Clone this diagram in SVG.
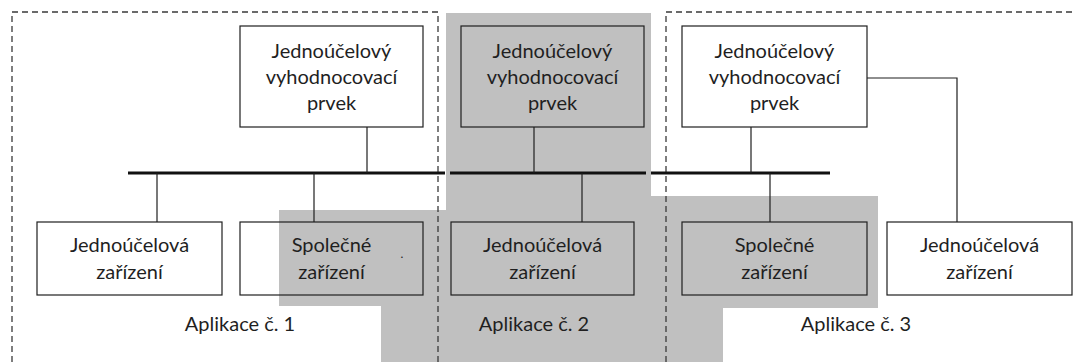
<svg xmlns="http://www.w3.org/2000/svg" width="1074" height="362" viewBox="0 0 1074 362">
  <style>
    .shade { fill: #c0c0c0; }
    .box { stroke: #1e1e1e; stroke-width: 1.2; }
    .white { fill: #ffffff; }
    .grey { fill: #c0c0c0; }
    .open { fill: none; }
    .wire { stroke: #1e1e1e; stroke-width: 1.2; fill: none; }
    .bus { stroke: #111111; stroke-width: 3; fill: none; }
    .zone { stroke: #3a3a3a; stroke-width: 1.3; stroke-dasharray: 6 4; fill: none; }
    text { font-family: Lato, "Open Sans", "Liberation Sans", sans-serif; font-size: 20px; fill: #1f1f1f; text-anchor: middle; }
  </style>

  <rect width="1074" height="362" fill="#ffffff"/>

  <!-- shaded regions marking shared parts -->
  <g id="shading">
    <rect class="shade" x="446" y="13" width="205" height="349"/>
    <rect class="shade" x="279" y="210" width="167" height="96"/>
    <rect class="shade" x="381" y="306" width="65" height="56"/>
    <rect class="shade" x="651" y="196" width="227" height="112"/>
    <rect class="shade" x="651" y="308" width="72" height="54"/>
  </g>

  <!-- application boundaries -->
  <g id="zones">
    <path class="zone" d="M12 362 V12 H438 V362"/>
    <path class="zone" d="M666 362 V12 H1074"/>
  </g>

  <!-- connectors -->
  <g id="connectors">
    <path class="bus" d="M128 173 H445 M450 173 H646 M651 173 H830"/>
    <path class="wire" d="M367 127 V173"/>
    <path class="wire" d="M534 127 V173"/>
    <path class="wire" d="M751 127 V173"/>
    <path class="wire" d="M157 173 V222"/>
    <path class="wire" d="M314 173 V222"/>
    <path class="wire" d="M582 173 V222"/>
    <path class="wire" d="M770 173 V222"/>
    <path class="wire" d="M867 78 H957 V222"/>
  </g>

  <!-- evaluation units -->
  <g id="eval-1">
    <rect class="box white" x="240" y="26" width="183" height="101"/>
    <text x="331.5" y="58">Jednoúčelový</text>
    <text x="331.5" y="84">vyhodnocovací</text>
    <text x="331.5" y="110">prvek</text>
  </g>
  <g id="eval-2">
    <rect class="box grey" x="461" y="26" width="183" height="101"/>
    <text x="552.5" y="58">Jednoúčelový</text>
    <text x="552.5" y="84">vyhodnocovací</text>
    <text x="552.5" y="110">prvek</text>
  </g>
  <g id="eval-3">
    <rect class="box white" x="682" y="26" width="185" height="101"/>
    <text x="774.5" y="58">Jednoúčelový</text>
    <text x="774.5" y="84">vyhodnocovací</text>
    <text x="774.5" y="110">prvek</text>
  </g>

  <!-- devices -->
  <g id="device-1">
    <rect class="box white" x="37" y="222" width="185" height="73"/>
    <text x="129.5" y="252">Jednoúčelová</text>
    <text x="129.5" y="279">zařízení</text>
  </g>
  <g id="shared-1">
    <rect class="box open" x="240" y="222" width="183" height="73"/>
    <text x="331.5" y="252">Společné</text>
    <text x="331.5" y="279">zařízení</text>
    <text x="402" y="258" style="font-size:12px">.</text>
  </g>
  <g id="device-2">
    <rect class="box grey" x="451" y="222" width="183" height="73"/>
    <text x="542.5" y="252">Jednoúčelová</text>
    <text x="542.5" y="279">zařízení</text>
  </g>
  <g id="shared-3">
    <rect class="box grey" x="682" y="222" width="185" height="73"/>
    <text x="774.5" y="252">Společné</text>
    <text x="774.5" y="279">zařízení</text>
  </g>
  <g id="device-3">
    <rect class="box white" x="887" y="222" width="185" height="73"/>
    <text x="979.5" y="252">Jednoúčelová</text>
    <text x="979.5" y="279">zařízení</text>
  </g>

  <!-- application captions -->
  <g id="captions">
    <text x="240" y="331">Aplikace č. 1</text>
    <text x="534" y="331">Aplikace č. 2</text>
    <text x="856" y="331">Aplikace č. 3</text>
  </g>
</svg>
